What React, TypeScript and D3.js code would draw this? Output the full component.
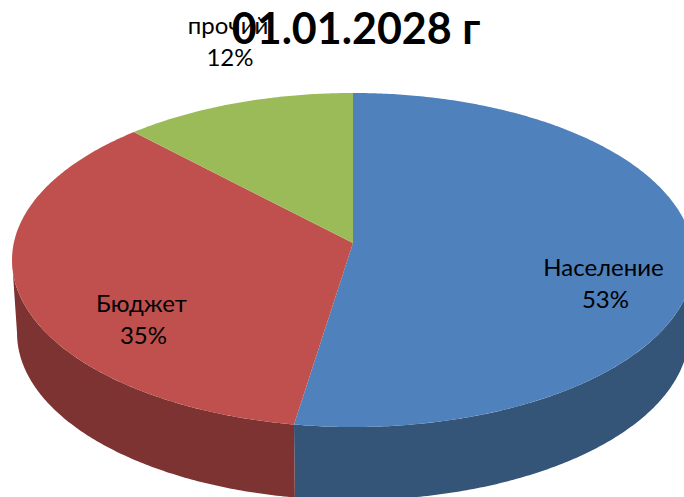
import React from "react";
import * as d3 from "d3";

const categories = ["Население", "Бюджет", "прочий"];
const values = [52.5, 35.3, 12.2];
const percentLabels = ["53%", "35%", "12%"];
const topColors = ["#4F81BD", "#C0504D", "#9BBB59"];
const sideColors = ["#345478", "#7C3331", "#5F7530"];
const title = "01.01.2028 г";

const WIDTH = 684;
const HEIGHT = 497;
const CX = 353;
const CY = 243;
const A = 339.2;
const B = 165.3;
const K = 0.1018;
const DEPTH = 73;
const BASE_SCALE = 336 / 341;
const TANGENT = Math.acos(K); // angle from the front where the silhouette sits

const labelPos = [
  { x: 603.5, px: 605.5, y: 276 },
  { x: 141.5, px: 143.5, y: 312 },
  { x: 228, px: 230, y: 34 },
];

const project = (t: number, r = 1) => {
  const u = r * Math.sin(t);
  const v = -r * Math.cos(t);
  const d = 1 - K * v;
  return [CX + (A * u) / d, CY + (B * v) / d] as [number, number];
};
const projectBase = (t: number) => {
  const [x, y] = project(t);
  return [CX + (x - CX) * BASE_SCALE, y + DEPTH] as [number, number];
};

const sample = (a: number, b: number) => {
  const n = Math.max(2, Math.ceil(Math.abs(b - a) / 0.01));
  return d3.range(n + 1).map((i) => a + ((b - a) * i) / n);
};

const line = d3.line();
const pieGen = d3.pie<number>().sort(null).startAngle(0).endAngle(2 * Math.PI);

export default function App() {
  const arcs = pieGen(values);
  const frontStart = Math.PI - TANGENT;
  const frontEnd = Math.PI + TANGENT;

  return (
    <svg
      width={WIDTH}
      height={HEIGHT}
      viewBox={`0 0 ${WIDTH} ${HEIGHT}`}
      style={{ position: "absolute", left: 0, top: 0, display: "block" }}
      fontFamily="Lato, 'Noto Sans', sans-serif"
    >
      {arcs.map((a, i) => {
        const s = Math.max(a.startAngle, frontStart);
        const e = Math.min(a.endAngle, frontEnd);
        if (s >= e) return null;
        const ts = sample(s, e);
        const pts = [...ts.map((t) => project(t)), ...ts.slice().reverse().map(projectBase)];
        return <path key={"side" + i} d={line(pts) + "Z"} fill={sideColors[i]} />;
      })}
      {arcs.map((a, i) => {
        const pts = [[CX, CY] as [number, number], ...sample(a.startAngle, a.endAngle).map((t) => project(t))];
        return <path key={"top" + i} d={line(pts) + "Z"} fill={topColors[i]} />;
      })}
      {categories.map((c, i) => (
        <text key={c} x={labelPos[i].x} y={labelPos[i].y} textAnchor="middle" fontSize={24} fill="#000">
          <tspan x={labelPos[i].x}>{c}</tspan>
          <tspan x={labelPos[i].px} dy={32}>{percentLabels[i]}</tspan>
        </text>
      ))}
      <text x={356} y={44} textAnchor="middle" fontSize={43} fontWeight={700} fill="#000">
        {title}
      </text>
    </svg>
  );
}
